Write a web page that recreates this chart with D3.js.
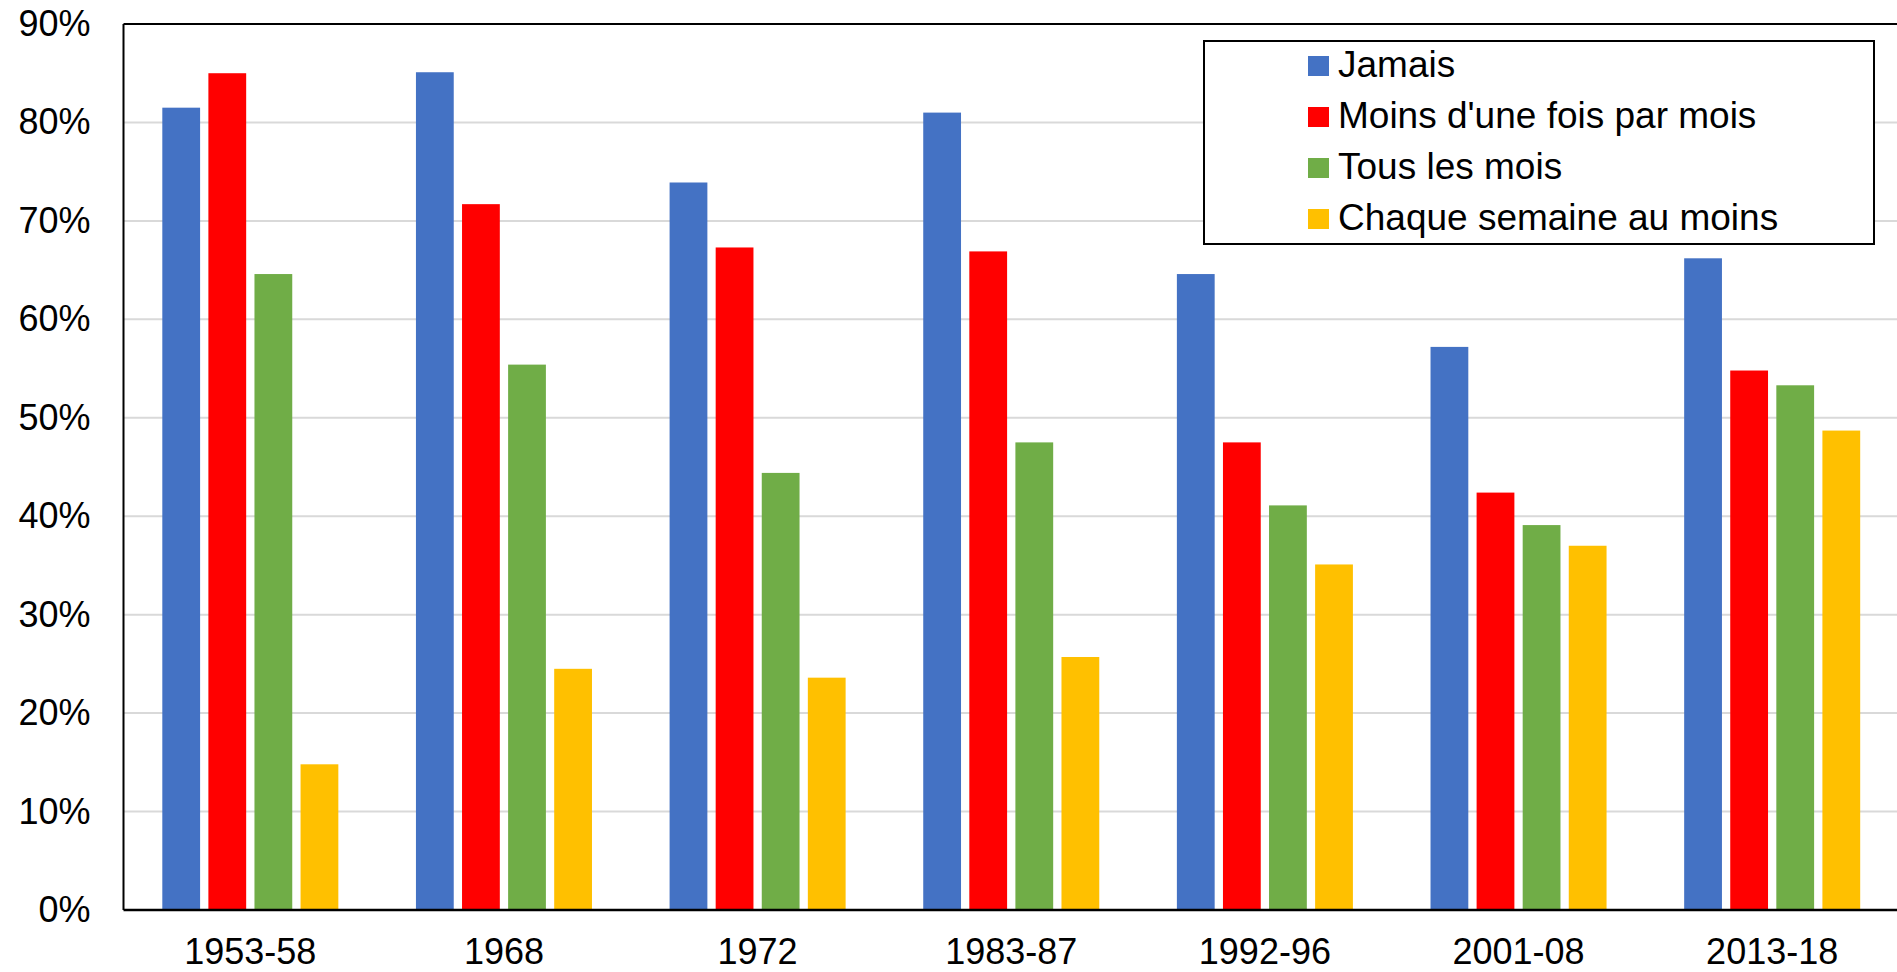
<!DOCTYPE html>
<html>
<head>
<meta charset="utf-8">
<script src="https://cdn.jsdelivr.net/npm/d3@7"></script>
<style>
  html, body { margin: 0; padding: 0; background: #fff; }
  svg { display: block; }
  text { font-family: "Liberation Sans", Arial, sans-serif; fill: #000; }
</style>
</head>
<body>
<svg id="chart" width="1897" height="972"></svg>
<script>
const categories = ["1953-58", "1968", "1972", "1983-87", "1992-96", "2001-08", "2013-18"];
const seriesNames = ["Jamais", "Moins d'une fois par mois", "Tous les mois", "Chaque semaine au moins"];
const jamais   = [81.5, 85.1, 73.9, 81.0, 64.6, 57.2, 66.2];
const moins    = [85.0, 71.7, 67.3, 66.9, 47.5, 42.4, 54.8];
const tousMois = [64.6, 55.4, 44.4, 47.5, 41.1, 39.1, 53.3];
const semaine  = [14.8, 24.5, 23.6, 25.7, 35.1, 37.0, 48.7];
const seriesValues = [jamais, moins, tousMois, semaine];
const colors = ["#4472C4", "#FF0000", "#70AD47", "#FFC000"];
const yTicks = [0, 10, 20, 30, 40, 50, 60, 70, 80, 90];

(function () {
const svg = d3.select("#chart");
const pL = 123.5, pR = 1899, pT = 24, pB = 910;

const y = d3.scaleLinear().domain([0, 90]).range([pB, pT]);
const x0 = d3.scaleBand().domain(categories).range([pL, pR])
  .paddingInner(0.306).paddingOuter(0.153);
const x1 = d3.scaleBand().domain(seriesNames).range([0, x0.bandwidth()])
  .paddingInner(0.18).paddingOuter(0);

// gridlines
svg.append("g").selectAll("line").data(yTicks.filter(t => t > 0 && t < 90)).join("line")
  .attr("x1", pL).attr("x2", pR)
  .attr("y1", d => y(d)).attr("y2", d => y(d))
  .attr("stroke", "#d9d9d9").attr("stroke-width", 2);

// bars
const groups = svg.append("g").selectAll("g").data(categories).join("g")
  .attr("transform", d => `translate(${x0(d)},0)`);
groups.selectAll("rect")
  .data((c, i) => seriesNames.map((s, j) => ({ s, j, v: seriesValues[j][i] })))
  .join("rect")
  .attr("x", d => x1(d.s))
  .attr("width", x1.bandwidth())
  .attr("y", d => y(d.v))
  .attr("height", d => pB - y(d.v))
  .attr("fill", d => colors[d.j]);

// frame: top line, left axis, bottom axis
svg.append("line").attr("x1", pL).attr("x2", pR).attr("y1", pT).attr("y2", pT)
  .attr("stroke", "#000").attr("stroke-width", 2);
svg.append("line").attr("x1", pL).attr("x2", pL).attr("y1", pT).attr("y2", pB)
  .attr("stroke", "#000").attr("stroke-width", 2);
svg.append("line").attr("x1", pL).attr("x2", pR).attr("y1", pB).attr("y2", pB)
  .attr("stroke", "#000").attr("stroke-width", 2.5);

// y axis labels
const yAxis = d3.axisLeft(y).tickValues(yTicks).tickFormat(d => d + "%").tickSize(0).tickPadding(33);
const ya = svg.append("g").attr("transform", `translate(${pL},0)`).call(yAxis);
ya.select(".domain").remove();
ya.selectAll("text").style("font-size", "36px").style("font-family", "'Liberation Sans', Arial, sans-serif").attr("fill", "#000");

// x axis labels
const xAxis = d3.axisBottom(x0).tickSize(0).tickPadding(28);
const xa = svg.append("g").attr("transform", `translate(0,${pB})`).call(xAxis);
xa.select(".domain").remove();
xa.selectAll("text").style("font-size", "36px").style("font-family", "'Liberation Sans', Arial, sans-serif").attr("fill", "#000");

// legend
const lg = svg.append("g");
lg.append("rect").attr("x", 1204).attr("y", 41).attr("width", 670).attr("height", 203)
  .attr("fill", "#fff").attr("stroke", "#000").attr("stroke-width", 2);
const items = lg.selectAll("g.item").data(seriesNames).join("g").attr("class", "item")
  .attr("transform", (d, i) => `translate(1308,${77 + i * 51})`);
items.append("rect").attr("x", 0).attr("y", -21).attr("width", 21).attr("height", 20)
  .attr("fill", (d, i) => colors[i]);
items.append("text").attr("x", 30).attr("y", 0).style("font-size", "37px").text(d => d);
})();
</script>
</body>
</html>
